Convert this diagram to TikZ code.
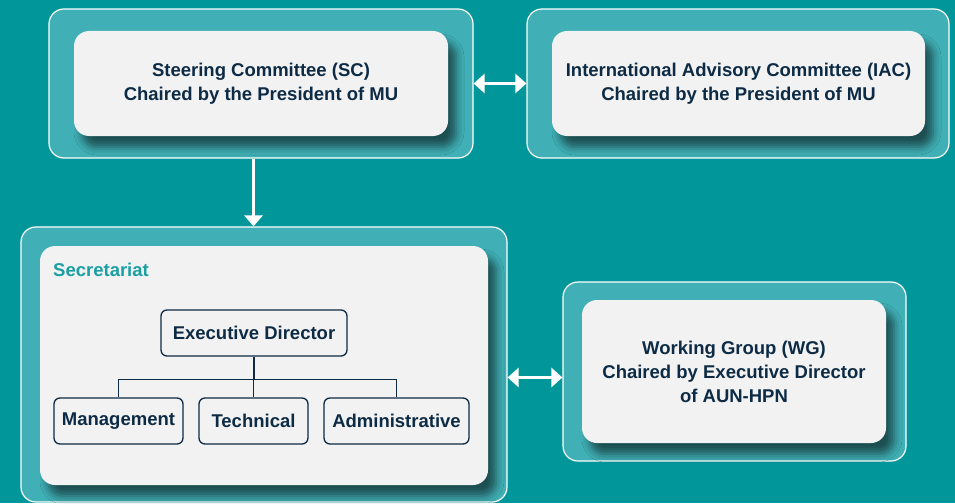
\documentclass[tikz,border=0pt]{standalone}
\usepackage{fontspec}
\setmainfont{Liberation Sans}
\usetikzlibrary{arrows.meta,shadows.blur}
\definecolor{tealbg}{HTML}{00969A}
\definecolor{tealbox}{HTML}{40B0B6}
\definecolor{paper}{HTML}{F2F2F2}
\definecolor{navy}{HTML}{0D2B45}
\definecolor{labelteal}{HTML}{1A9FA3}
\begin{document}
\begin{tikzpicture}
  [x=1pt,y=-1pt,
   every node/.style={font=\bfseries\fontsize{18.5}{24}\selectfont,text=navy,align=center,inner sep=0pt},
   outer/.style={draw=white,line width=1.2pt,fill=tealbox,rounded corners=15pt},
   inner/.style={fill=paper,rounded corners=15pt,
     blur shadow={shadow xshift=8pt,shadow yshift=-11pt,shadow blur radius=8pt,shadow opacity=55}},
   unit/.style={draw=navy,line width=1.3pt,fill=paper,rounded corners=6pt,minimum height=46pt},
   link/.style={white,line width=3pt,{Triangle[width=19pt,length=11pt]}-{Triangle[width=19pt,length=11pt]}}]
  \fill[tealbg] (0,0) rectangle (955,503);
  \useasboundingbox (0,0) rectangle (955,503);
  % committees
  \node (scout)[outer,minimum width=424pt,minimum height=149pt] at (261,83.5) {};
  \node (sc)[inner,minimum width=374pt,minimum height=105pt] at (261,83.5) {Steering Committee (SC)\\Chaired by the President of MU};
  \node (iacout)[outer,minimum width=422pt,minimum height=149pt] at (738,83.5) {};
  \node (iac)[inner,minimum width=373pt,minimum height=105pt] at (738.5,83.5) {International Advisory Committee (IAC)\\Chaired by the President of MU};
  % secretariat
  \node (secout)[outer,minimum width=486pt,minimum height=275pt] at (264,364.5) {};
  \node (sec)[inner,minimum width=448pt,minimum height=239pt] at (264,365.5) {};
  \node (seclabel)[anchor=west,text=labelteal] at (53,270) {Secretariat};
  \node (ed)[unit,minimum width=186pt] at (254,333) {Executive Director};
  \node (mgmt)[unit,minimum width=129pt] at (118.5,421) {Management};
  \node (tech)[unit,minimum width=109pt] at (253.5,421) {Technical};
  \node (admin)[unit,minimum width=145pt] at (396.5,421) {Administrative};
  % working group
  \node (wgout)[outer,minimum width=343pt,minimum height=179pt] at (734.5,371.5) {};
  \node (wg)[inner,minimum width=304pt,minimum height=143pt] at (734,371.5) {Working Group (WG)\\Chaired by Executive Director\\of AUN-HPN};
  \foreach \to in {mgmt,tech,admin}
    \draw[navy,line width=1.2pt] (ed.south) -- ++(0,23) -| (\to.north);
  \draw[link] (scout.east) -- (iacout.west);
  \draw[link] ([yshift=-6pt]wgout.west -| secout.east) -- ([yshift=-6pt]wgout.west);
  \draw[white,line width=3pt,-{Triangle[width=18pt,length=11pt]}] (scout.south -| tech.north) -- (secout.north -| tech.north);
\end{tikzpicture}
\end{document}
